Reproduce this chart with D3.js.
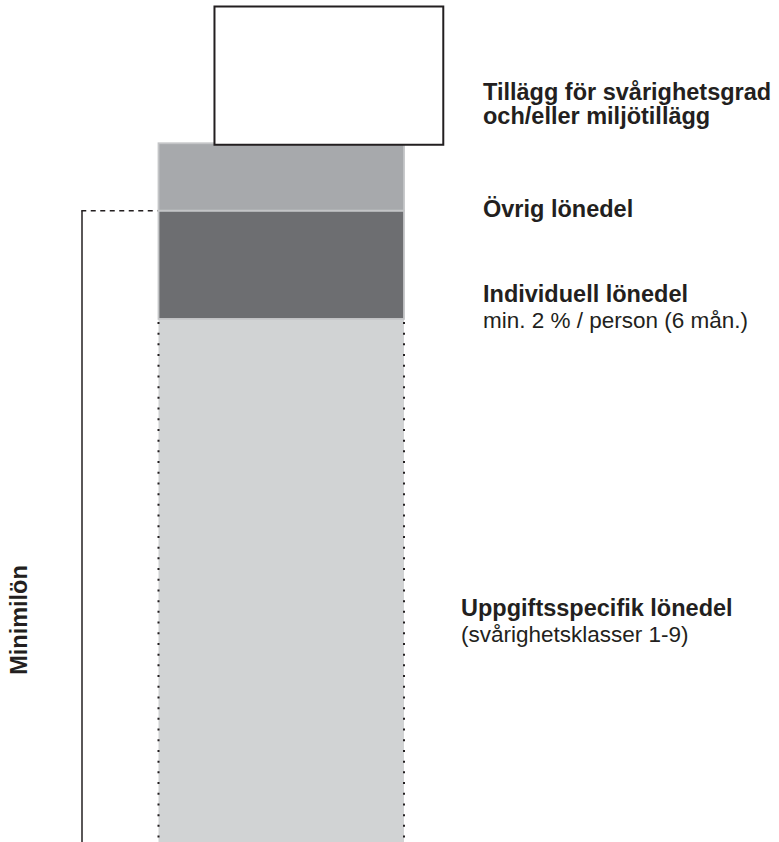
<!DOCTYPE html>
<html>
<head>
<meta charset="utf-8">
<script src="https://cdn.jsdelivr.net/npm/d3@7"></script>
<style>
  html, body { margin: 0; padding: 0; background: #fff; }
  svg { display: block; }
  text { font-family: "Liberation Sans", Arial, Helvetica, sans-serif; fill: #231f20; }
</style>
</head>
<body>
<svg id="chart" width="779" height="842"></svg>
<script>
// Lönedelar, nerifrån och upp (höjd i godtyckliga enheter)
const segments = ["Uppgiftsspecifik", "Individuell", "Övrig", "Tillägg"];
const segmentValues = [52.4, 10.85, 6.75, 13.7];
const segmentFills = ["#d1d3d4", "#6d6e71", "#a7a9ac", "#ffffff"];

// etiketter till höger: fet rubrik + vanlig undertext
const labelBold = [
  ["Uppgiftsspecifik lönedel"],
  ["Individuell lönedel"],
  ["Övrig lönedel"],
  ["Tillägg för svårighetsgrad", "och/eller miljötillägg"]
];
const labelPlain = [
  ["(svårighetsklasser 1-9)"],
  ["min. 2 % / person (6 mån.)"],
  [],
  []
];
const bracketLabel = "Minimilön";

const svg = d3.select("#chart");
const W = 779, H = 842;

// stapla
let acc = 0;
const stack = segmentValues.map((v, i) => {
  const d = { key: segments[i], y0: acc, y1: acc + v, i };
  acc += v;
  return d;
});

const y = d3.scaleLinear().domain([0, acc]).range([H, 6.5]);
const x = d3.scaleLinear().domain([0, 10]).range([158.5, 404]);

// stapelns tre nedre delar
const bar = stack.slice(0, 3);
svg.selectAll("rect.seg")
  .data(bar)
  .join("rect")
  .attr("class", "seg")
  .attr("x", x(0))
  .attr("width", x(10) - x(0))
  .attr("y", d => y(d.y1))
  .attr("height", d => y(d.y0) - y(d.y1))
  .attr("fill", d => segmentFills[d.i])
  .attr("stroke", d => d.i === 0 ? "none" : "#c4c5c7")
  .attr("stroke-width", 1.8);

// prickade kanter på den nedre delen
const baseSeg = stack[0];
[x(0), x(10)].forEach(px => {
  svg.append("line")
    .attr("x1", px).attr("x2", px)
    .attr("y1", y(baseSeg.y1) + 3).attr("y2", y(baseSeg.y0))
    .attr("stroke", "#231f20")
    .attr("stroke-width", 2)
    .attr("stroke-dasharray", "2 8.7");
});

// tilläggsrutan, förskjuten åt höger
const topSeg = stack[3];
svg.append("rect")
  .attr("x", x(2.28))
  .attr("width", x(11.6) - x(2.28))
  .attr("y", y(topSeg.y1))
  .attr("height", y(topSeg.y0) - y(topSeg.y1) + 1.5)
  .attr("fill", segmentFills[3])
  .attr("stroke", "#231f20")
  .attr("stroke-width", 2);

// hakparentes för minimilön
const minTop = y(stack[1].y1);
svg.append("line")
  .attr("x1", 82).attr("x2", 82)
  .attr("y1", minTop).attr("y2", H)
  .attr("stroke", "#231f20").attr("stroke-width", 1.5);
svg.append("line")
  .attr("x1", 81.25).attr("x2", x(0) - 1)
  .attr("y1", minTop).attr("y2", minTop)
  .attr("stroke", "#231f20").attr("stroke-width", 1.5)
  .attr("stroke-dasharray", "5 4.5");

svg.append("text")
  .attr("transform", "translate(27,620) rotate(-90)")
  .attr("text-anchor", "middle")
  .attr("font-weight", "bold")
  .attr("font-size", 23.5)
  .text(bracketLabel);

// etiketter
const labelPos = [
  { x: 461, y: 616, lh: 26 },
  { x: 483, y: 302, lh: 26 },
  { x: 483, y: 217, lh: 24 },
  { x: 483, y: 100, lh: 24 }
];
labelBold.forEach((lines, i) => {
  const p = labelPos[i];
  const g = svg.append("g").attr("transform", `translate(${p.x},${p.y})`);
  const all = lines.map(t => ({ t, b: true })).concat(labelPlain[i].map(t => ({ t, b: false })));
  all.forEach((l, k) => {
    g.append("text")
      .attr("y", k * p.lh)
      .attr("font-size", l.b ? 23.5 : 22.5)
      .attr("font-weight", l.b ? "bold" : "normal")
      .text(l.t);
  });
});
</script>
</body>
</html>
